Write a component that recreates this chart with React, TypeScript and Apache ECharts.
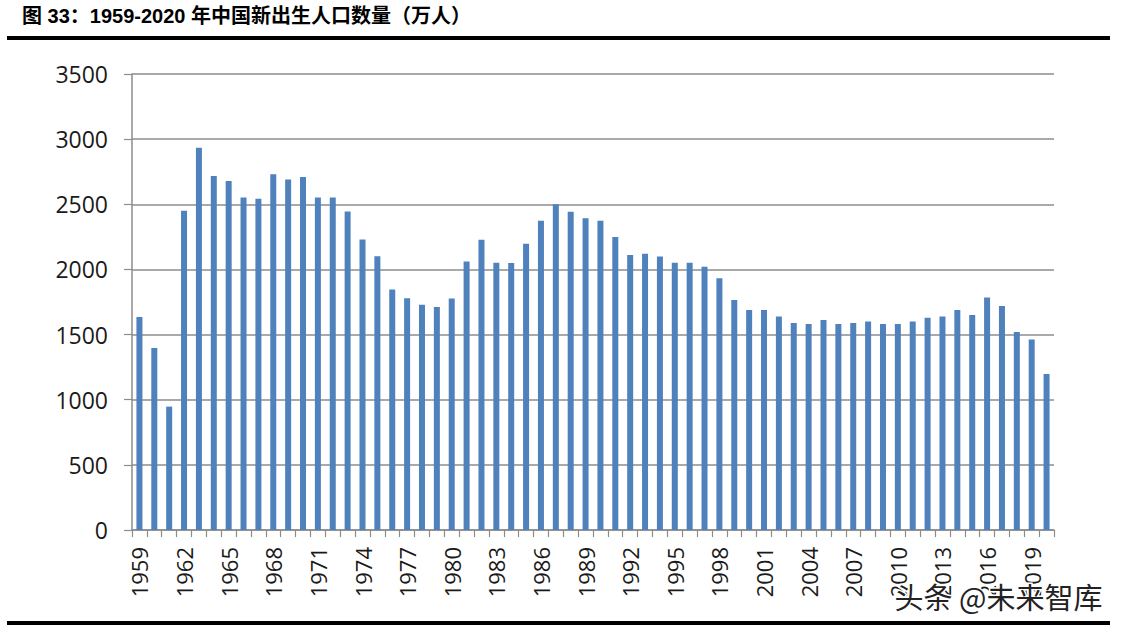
import React, { useEffect, useRef } from "react";
import * as echarts from "echarts";

const years: string[] = [
  "1959","1960","1961","1962","1963","1964","1965","1966","1967","1968",
  "1969","1970","1971","1972","1973","1974","1975","1976","1977","1978",
  "1979","1980","1981","1982","1983","1984","1985","1986","1987","1988",
  "1989","1990","1991","1992","1993","1994","1995","1996","1997","1998",
  "1999","2000","2001","2002","2003","2004","2005","2006","2007","2008",
  "2009","2010","2011","2012","2013","2014","2015","2016","2017","2018",
  "2019","2020",
];

const births: number[] = [
  1635, 1396, 947, 2451, 2934, 2718, 2679, 2553, 2543, 2730,
  2691, 2709, 2553, 2552, 2444, 2229, 2101, 1846, 1779, 1729,
  1711, 1776, 2061, 2227, 2051, 2050, 2198, 2373, 2501, 2442,
  2393, 2373, 2248, 2110, 2120, 2099, 2051, 2052, 2021, 1933,
  1766, 1688, 1688, 1639, 1588, 1581, 1611, 1581, 1588, 1600,
  1581, 1581, 1600, 1629, 1639, 1688, 1650, 1785, 1719, 1519,
  1463, 1197,
];

const yTicks = { min: 0, max: 3500, interval: 500 };

const titleText = "图 33：1959-2020 年中国新出生人口数量（万人）";
const watermarkText = "头条 @未来智库";

export default function App() {
  const ref = useRef<HTMLDivElement>(null);

  useEffect(() => {
    if (!ref.current) return;
    const chart = echarts.init(ref.current, undefined, { renderer: "svg" });
    chart.setOption({
      animation: false,
      backgroundColor: "#ffffff",
      grid: { left: 132, right: 68, top: 74, bottom: 98, containLabel: false },
      xAxis: {
        type: "category",
        data: years,
        boundaryGap: true,
        axisLine: { show: true, lineStyle: { color: "#8c8c8c", width: 1.5 } },
        axisTick: { show: true, interval: 0, length: 7, lineStyle: { color: "#8c8c8c", width: 1.2 } },
        axisLabel: {
          interval: 2,
          rotate: 90,
          margin: 17,
          color: "#1a1a1a",
          fontSize: 22,
          fontFamily: "Open Sans",
        },
        splitLine: { show: false },
      },
      yAxis: {
        type: "value",
        min: yTicks.min,
        max: yTicks.max,
        interval: yTicks.interval,
        axisLine: { show: true, lineStyle: { color: "#8c8c8c", width: 1.5 } },
        axisTick: { show: true, inside: false, length: 8, lineStyle: { color: "#8c8c8c", width: 1.2 } },
        axisLabel: {
          margin: 24,
          color: "#1a1a1a",
          fontSize: 23,
          fontFamily: "Open Sans",
          formatter: (v: number) => String(v),
        },
        splitLine: { show: true, lineStyle: { color: "#8c8c8c", width: 1.5 } },
      },
      series: [
        {
          type: "bar",
          data: births,
          barWidth: 6,
          itemStyle: { color: "#4f81bd" },
        },
      ],
      graphic: [
        {
          type: "text",
          left: 22,
          top: 6,
          style: {
            text: titleText,
            fontSize: 20,
            fontWeight: "bold",
            fontFamily: "Liberation Sans, Noto Sans CJK SC",
            fill: "#000000",
          },
        },
        {
          type: "rect",
          shape: { x: 7, y: 36, width: 1103, height: 4 },
          style: { fill: "#000000" },
        },
        {
          type: "rect",
          shape: { x: 7, y: 621, width: 1103, height: 4 },
          style: { fill: "#000000" },
        },
        {
          type: "text",
          left: 893,
          top: 580,
          z: 100,
          style: {
            text: watermarkText,
            fontSize: 29,
            fontFamily: "Noto Sans CJK SC",
            fill: "#222222",
            stroke: "#ffffff",
            lineWidth: 3,
          },
        },
      ],
    });
    return () => {
      chart.dispose();
    };
  }, []);

  return (
    <div
      ref={ref}
      style={{ position: "fixed", left: 0, top: 0, width: 1122, height: 628, background: "#fff" }}
    />
  );
}
